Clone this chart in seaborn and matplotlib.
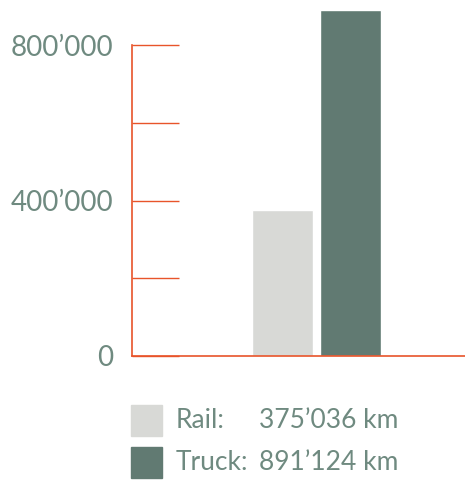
import matplotlib
matplotlib.use("Agg")
import matplotlib.pyplot as plt
import matplotlib.patches as mpatches
import pandas as pd
import seaborn as sns

# chart data
modes = ["Rail", "Truck"]
distances_km = [375036, 891124]
mode_colors = ["#d8d9d6", "#617a72"]
y_ticks = [0, 200000, 400000, 600000, 800000]
y_tick_labels = ["0", "", "400’000", "", "800’000"]

axis_red = "#e8542a"
text_color = "#6f8a80"

sns.set_style("white")
plt.rcParams["font.family"] = ["Lato", "DejaVu Sans"]

df = pd.DataFrame({"mode": modes, "km": distances_km})

fig = plt.figure(figsize=(4.65, 4.80), dpi=100)
ax = fig.add_axes([132 / 465, 124 / 480, 333 / 465, 356 / 480])

sns.barplot(data=df, x="mode", y="km", hue="mode", palette=mode_colors,
            width=0.897, legend=False, ax=ax, saturation=1)

ax.set_xlim(-2.213, 2.684)
ax.set_ylim(0, 915800)
ax.set_xlabel("")
ax.set_ylabel("")
ax.set_xticks([])
ax.set_yticks(y_ticks)
ax.set_yticklabels(y_tick_labels)

for side in ["top", "right"]:
    ax.spines[side].set_visible(False)
for side in ["left", "bottom"]:
    ax.spines[side].set_color(axis_red)
    ax.spines[side].set_linewidth(1.2)
ax.spines["left"].set_bounds(0, 800000)

ax.tick_params(axis="y", direction="in", length=34, width=1.0, color=axis_red,
               pad=13.5, labelsize=20, labelcolor=text_color, left=True)

# legend below the chart
for i, (m, v, c) in enumerate(zip(modes, distances_km, mode_colors)):
    y_top = 405 + i * 42
    fig.add_artist(mpatches.Rectangle((131 / 465, 1 - (y_top + 31) / 480), 31 / 465, 31 / 480,
                                      color=c, transform=fig.transFigure))
    yc = 1 - (y_top + 16) / 480
    fig.text(176 / 465, yc, m + ":", ha="left", va="center", fontsize=19,
             color=text_color)
    fig.text(259 / 465, yc, f"{v:,}".replace(",", "’") + " km", ha="left", va="center",
             fontsize=19, color=text_color)

fig.savefig("out.png", dpi=100)
